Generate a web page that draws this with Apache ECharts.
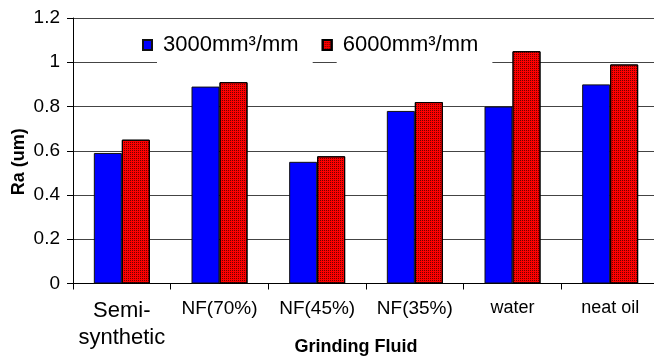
<!DOCTYPE html>
<html>
<head>
<meta charset="utf-8">
<script src="https://cdn.jsdelivr.net/npm/echarts@6/dist/echarts.min.js"></script>
<style>html,body{margin:0;padding:0;background:#fff}#c{width:654px;height:358px}</style>
</head>
<body>
<div id="c"></div>
<script>
var categories = ['Semi-\nsynthetic', 'NF(70%)', 'NF(45%)', 'NF(35%)', 'water', 'neat oil'];
var labelStyles = ['a', 'b', 'b', 'b', 'c', 'c'];
var seriesNames = ['3000mm\u00b3/mm', '6000mm\u00b3/mm'];
var values3000 = [0.59, 0.89, 0.55, 0.78, 0.80, 0.90];
var values6000 = [0.65, 0.91, 0.575, 0.82, 1.05, 0.99];
var yTicks = { min: 0, max: 1.2, interval: 0.2 };

var font = 'Liberation Sans, Arial, sans-serif';
var chart = echarts.init(document.getElementById('c'), null, { renderer: 'canvas' });
var redDecal = {
  symbol: 'rect',
  symbolSize: 1,
  color: 'rgba(0,0,0,0.55)',
  dashArrayX: [[1, 1]],
  dashArrayY: [1, 1],
  rotation: 0
};
chart.setOption({
  animation: false,
  backgroundColor: '#fff',
  textStyle: { fontFamily: font, color: '#000' },
  grid: { left: 73, right: -5, top: 18, bottom: 74.5, containLabel: false, outerBoundsMode: 'none' },
  legend: {
    data: seriesNames,
    left: 137,
    top: 20,
    itemWidth: 9,
    itemHeight: 10,
    itemGap: 9,
    icon: 'rect',
    textStyle: {
      fontFamily: font, fontSize: 22, color: '#000',
      backgroundColor: '#fff', padding: [9, 14, 9, 6]
    }
  },
  xAxis: {
    type: 'category',
    data: categories.map(function (c, i) {
      return c.split('\n').map(function (s) { return '{' + labelStyles[i] + '|' + s + '}'; }).join('\n');
    }),
    name: 'Grinding Fluid',
    nameLocation: 'middle',
    nameGap: 55,
    nameMoveOverlap: false,
    nameTextStyle: { fontFamily: font, fontSize: 18, fontWeight: 'bold', color: '#000', padding: [0, 20, 0, 0] },
    axisLine: { lineStyle: { color: '#000', width: 1 } },
    axisTick: { show: true, length: 6, lineStyle: { color: '#000' } },
    axisLabel: {
      interval: 0, margin: 14, color: '#000',
      rich: {
        a: { fontFamily: font, fontSize: 22, lineHeight: 27, color: '#000' },
        b: { fontFamily: font, fontSize: 19, lineHeight: 22, color: '#000' },
        c: { fontFamily: font, fontSize: 18, lineHeight: 22, color: '#000' }
      }
    },
    splitLine: { show: false }
  },
  yAxis: {
    type: 'value',
    min: yTicks.min, max: yTicks.max, interval: yTicks.interval,
    name: 'Ra (um)',
    nameLocation: 'middle',
    nameGap: 45,
    nameMoveOverlap: false,
    nameTextStyle: { fontFamily: font, fontSize: 18, fontWeight: 'bold', color: '#000', padding: [0, 22, 0, 0] },
    axisLine: { show: true, lineStyle: { color: '#000', width: 1 } },
    axisTick: { show: true, length: 6, lineStyle: { color: '#000' } },
    axisLabel: { fontFamily: font, fontSize: 19, color: '#000', margin: 13 },
    splitLine: { show: true, lineStyle: { color: '#444', width: 1 } }
  },
  series: [
    {
      name: seriesNames[0], type: 'bar', data: values3000,
      barWidth: 28, barGap: '0%',
      itemStyle: { color: '#0000ff', borderColor: '#111', borderWidth: 1 }
    },
    {
      name: seriesNames[1], type: 'bar', data: values6000,
      barWidth: 28, barGap: '0%',
      itemStyle: { color: '#ff0000', borderColor: '#000', borderWidth: 1, decal: redDecal }
    }
  ]
});
</script>
</body>
</html>
